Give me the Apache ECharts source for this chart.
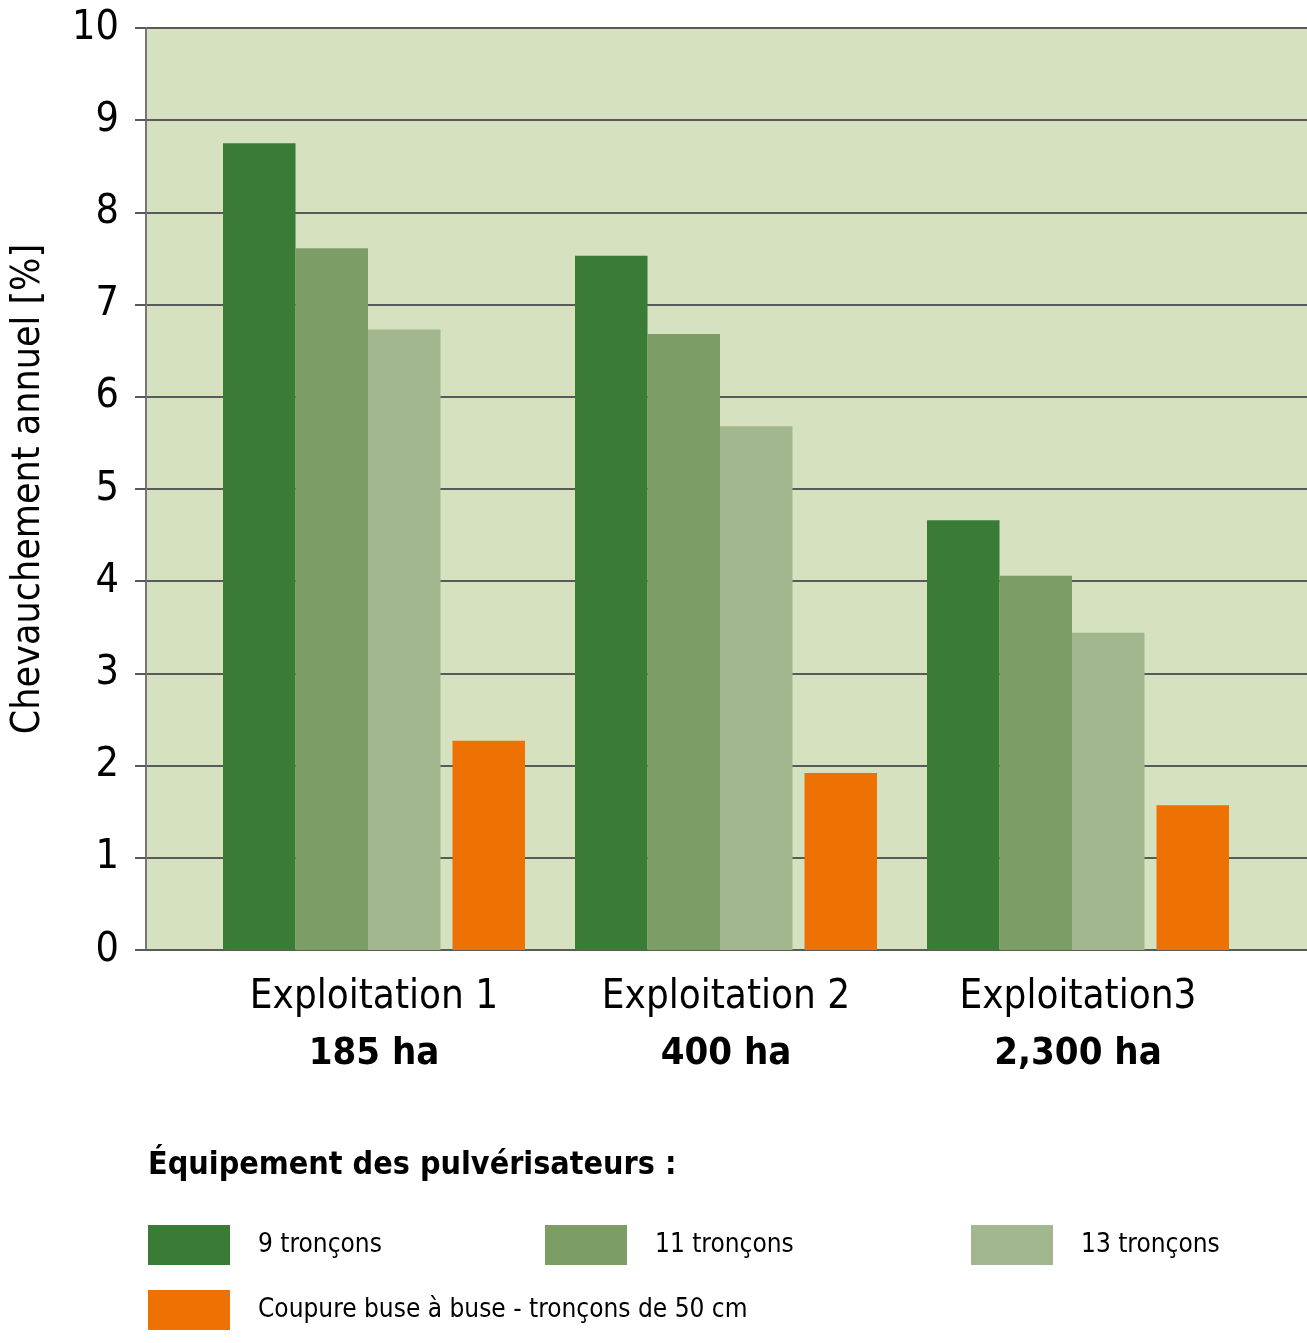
<!DOCTYPE html>
<html><head><meta charset="utf-8">
<script src="https://cdn.jsdelivr.net/npm/echarts@6/dist/echarts.min.js"></script>
<style>html,body{margin:0;padding:0;background:#fff}#c{width:1307px;height:1343px}</style>
</head><body><div id="c"></div>
<script>
const categories = ['Exploitation 1', 'Exploitation 2', 'Exploitation3'];
const areas = ['185 ha', '400 ha', '2,300 ha'];
const seriesNames = ['9 tronçons', '11 tronçons', '13 tronçons', 'Coupure buse à buse - tronçons de 50 cm'];
const v9 = [8.75, 7.53, 4.66];
const v11 = [7.61, 6.68, 4.06];
const v13 = [6.73, 5.68, 3.44];
const vBuse = [2.27, 1.92, 1.57];
const yTicks = [0, 1, 2, 3, 4, 5, 6, 7, 8, 9, 10];
const legendTitle = 'Équipement des pulvérisateurs :';
const yTitle = 'Chevauchement annuel [%]';

const FONT = '"Liberation Sans Narrow", "DejaVu Sans Condensed", "Noto Sans", sans-serif';
const colors = ['#3a7b36', '#7c9d66', '#a3b78f', '#ee7203'];

const chart = echarts.init(document.getElementById('c'), null, {renderer: 'canvas'});

function bar(name, data, color) {
  return {
    name: name, type: 'bar', xAxisIndex: 1, yAxisIndex: 1,
    data: data, barWidth: 72.5, barGap: '0%',
    itemStyle: {color: color}, z: 3
  };
}

const legendPos = [[148, 1225], [545, 1225], [971, 1225], [148, 1290]];

const option = {
  backgroundColor: '#ffffff',
  animation: false,
  textStyle: {fontFamily: FONT},
  grid: [
    {left: 146, right: 0, top: 28, bottom: 393, show: true, backgroundColor: '#d5e1bf', borderWidth: 0, containLabel: false},
    {left: 198, width: 1056, top: 28, bottom: 393, containLabel: false}
  ],
  xAxis: [
    {gridIndex: 0, type: 'value', min: 0, max: 1, axisLine: {show: true, onZero: false, lineStyle: {color: '#5a5a5a', width: 2}},
     axisTick: {show: false}, axisLabel: {show: false}, splitLine: {show: false}},
    {gridIndex: 1, type: 'category', data: categories,
     axisLine: {show: false}, axisTick: {show: false},
     axisLabel: {
       margin: 19,
       formatter: function (v, i) { return '{a|' + v + '}\n{b|' + areas[i] + '}'; },
       rich: {
         a: {fontFamily: FONT, fontSize: 40, color: '#000', lineHeight: 57},
         b: {fontFamily: FONT, fontSize: 38, fontWeight: 'bold', color: '#000', lineHeight: 57}
       }
     }}
  ],
  yAxis: [
    {gridIndex: 0, type: 'value', min: 0, max: 10, interval: 1,
     name: yTitle, nameLocation: 'middle', nameGap: 98, nameRotate: 90,
     nameTextStyle: {fontFamily: FONT, fontSize: 39, color: '#000'},
     axisLine: {show: true, lineStyle: {color: '#777777', width: 2}},
     axisTick: {show: true, length: 11, lineStyle: {color: '#5a5a5a', width: 2}},
     axisLabel: {fontFamily: FONT, fontSize: 41, color: '#000', margin: 27,
       formatter: function (v) { return yTicks.indexOf(v) >= 0 ? String(v) : ''; }},
     splitLine: {show: true, lineStyle: {color: '#5a5a5a', width: 2}}},
    {gridIndex: 1, type: 'value', min: 0, max: 10, show: false}
  ],
  legend: legendPos.map(function (p, i) {
    return {
      data: [seriesNames[i]], left: p[0], top: p[1], orient: 'horizontal', padding: 0,
      icon: 'rect', itemWidth: 82, itemHeight: 40, selectedMode: false,
      textStyle: {fontFamily: FONT, fontSize: 26, color: '#000', padding: [0, 0, 0, 23]}
    };
  }),
  graphic: [
    {type: 'text', left: 148, top: 1150, style: {text: legendTitle, fontFamily: FONT, fontSize: 32, fontWeight: 'bold', fill: '#000'}}
  ],
  series: [
    bar(seriesNames[0], v9, colors[0]),
    bar(seriesNames[1], v11, colors[1]),
    bar(seriesNames[2], v13, colors[2]),
    {name: 'gap', type: 'bar', xAxisIndex: 1, yAxisIndex: 1, data: [0, 0, 0], barWidth: 12, barGap: '0%', itemStyle: {color: 'rgba(0,0,0,0)'}, silent: true},
    bar(seriesNames[3], vBuse, colors[3])
  ]
};
chart.setOption(option);
</script>
</body></html>
